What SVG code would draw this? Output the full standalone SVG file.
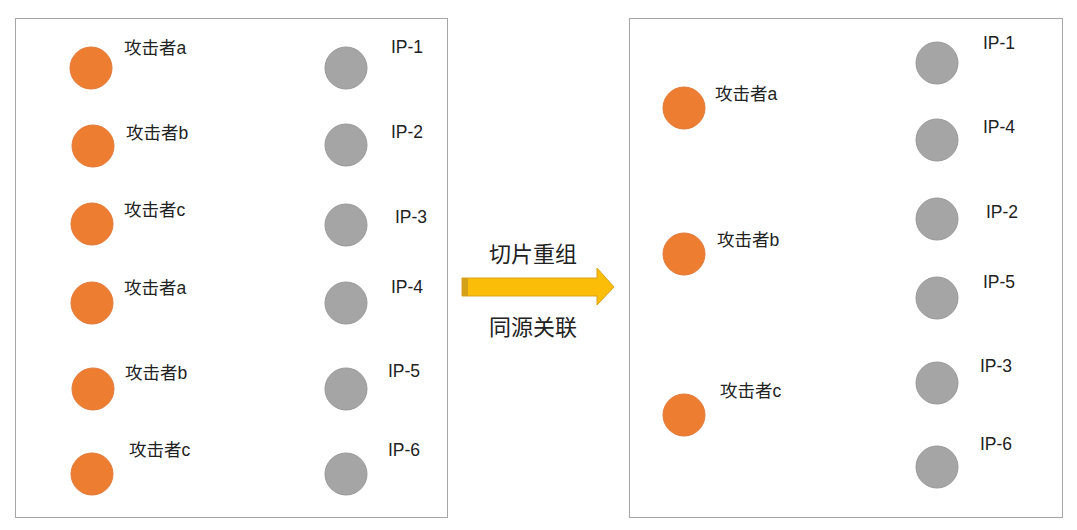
<svg xmlns="http://www.w3.org/2000/svg" width="1077" height="530" viewBox="0 0 1077 530">
<style>
.p{fill:#fff;stroke:#a6a6a6;stroke-width:1}
.o{fill:#ed7d31;stroke:#e27a3a;stroke-width:1}
.g{fill:#a5a5a5;stroke:#999;stroke-width:1}
text{font-family:"Liberation Sans","Noto Sans CJK SC",sans-serif;font-size:17.5px;fill:#222}
.b{font-size:22px}
</style>
<rect width="1077" height="530" fill="#fff"/>
<rect class="p" x="15.5" y="18.5" width="432" height="499"/>
<rect class="p" x="629.5" y="18.5" width="433" height="499"/>
<g id="left">
<g id="la1"><circle class="o" cx="91" cy="68" r="21"/><text x="124" y="54">攻击者a</text></g>
<g id="lb1"><circle class="o" cx="93" cy="146" r="21"/><text x="126" y="139">攻击者b</text></g>
<g id="lc1"><circle class="o" cx="92" cy="224" r="21"/><text x="124" y="216">攻击者c</text></g>
<g id="la2"><circle class="o" cx="92" cy="303" r="21"/><text x="124" y="294">攻击者a</text></g>
<g id="lb2"><circle class="o" cx="93" cy="389" r="21"/><text x="125" y="379">攻击者b</text></g>
<g id="lc2"><circle class="o" cx="92" cy="474" r="21"/><text x="129" y="456">攻击者c</text></g>
<g id="lip1"><circle class="g" cx="346" cy="68" r="21"/><text x="391" y="53">IP-1</text></g>
<g id="lip2"><circle class="g" cx="346" cy="145" r="21"/><text x="391" y="138">IP-2</text></g>
<g id="lip3"><circle class="g" cx="346" cy="225" r="21"/><text x="395" y="223">IP-3</text></g>
<g id="lip4"><circle class="g" cx="346" cy="303" r="21"/><text x="391" y="293">IP-4</text></g>
<g id="lip5"><circle class="g" cx="346" cy="389" r="21"/><text x="388" y="377">IP-5</text></g>
<g id="lip6"><circle class="g" cx="346" cy="474" r="21"/><text x="388" y="456">IP-6</text></g>
</g>
<g id="right">
<g id="ra"><circle class="o" cx="684" cy="108" r="21"/><text x="715" y="100">攻击者a</text></g>
<g id="rb"><circle class="o" cx="684" cy="254" r="21"/><text x="717" y="246">攻击者b</text></g>
<g id="rc"><circle class="o" cx="684" cy="415" r="21"/><text x="720" y="397">攻击者c</text></g>
<g id="rip1"><circle class="g" cx="937" cy="63" r="21"/><text x="983" y="49">IP-1</text></g>
<g id="rip4"><circle class="g" cx="937" cy="140" r="21"/><text x="983" y="133">IP-4</text></g>
<g id="rip2"><circle class="g" cx="937" cy="219" r="21"/><text x="986" y="218">IP-2</text></g>
<g id="rip5"><circle class="g" cx="937" cy="298" r="21"/><text x="983" y="288">IP-5</text></g>
<g id="rip3"><circle class="g" cx="937" cy="383" r="21"/><text x="980" y="372">IP-3</text></g>
<g id="rip6"><circle class="g" cx="937" cy="467" r="21"/><text x="980" y="450">IP-6</text></g>
</g>
<g id="connectors">
<path d="M462,278 H597 V268 L614,287 L597,305 V296 H462 Z" fill="#fbbd08" stroke="#d9a21c" stroke-width="1"/>
<rect x="462" y="278" width="6" height="18" fill="#d4a017"/>
<text class="b" x="533" y="262" text-anchor="middle">切片重组</text>
<text class="b" x="533" y="335" text-anchor="middle">同源关联</text>
</g>
</svg>
